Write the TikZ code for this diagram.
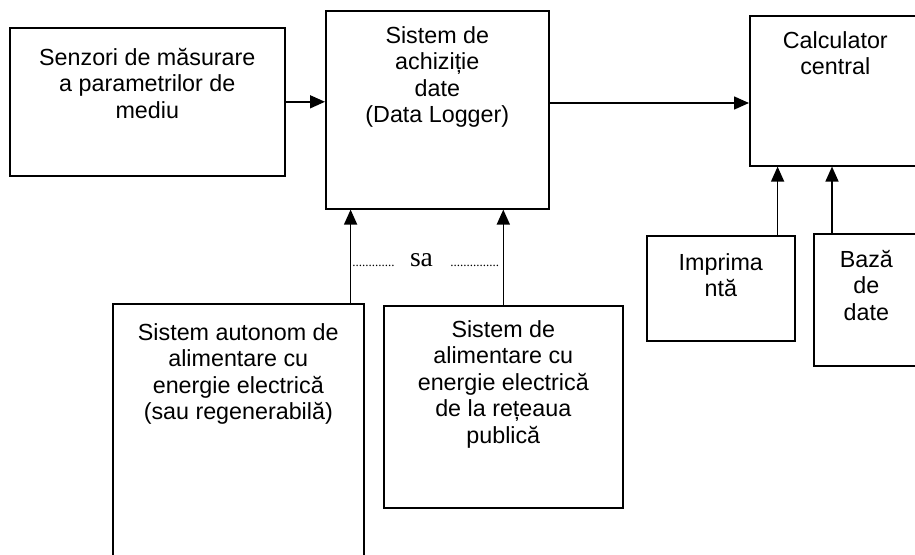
\documentclass[tikz,border=0pt]{standalone}
\usepackage{fontspec}
\setmainfont{Liberation Sans}
\newfontfamily\serifpart{Liberation Serif}
\usetikzlibrary{arrows.meta,positioning,calc}
\tikzset{
  block/.style={
    draw,
    line width=1.6pt,
    inner sep=0pt,
    anchor=north west
  },
  blocktext/.style={
    align=center,
    inner sep=0pt,
    font=\fontsize{23.3}{26.5}\selectfont
  },
  feed/.style={
    line width=1.6pt,
    -{Triangle[length=15pt,width=13pt]}
  },
  orword/.style={
    inner sep=0pt,
    anchor=base,
    font=\serifpart\fontsize{27.6}{30}\selectfont
  },
  dotrow/.style={
    inner sep=0pt,
    font=\serifpart\fontsize{13}{15}\selectfont
  }
}

\begin{document}
\begin{tikzpicture}[x=1pt,y=-1pt]
    \useasboundingbox (0,0) rectangle (915,554);
    \clip (0,0) rectangle (915,554);
    % blocks
    \node[block, minimum width=275pt, minimum height=148pt] (senz) at (9,27) {};
    \node[block, minimum width=223pt, minimum height=198pt] (dl) at (325,10) {};
    \node[block, minimum width=171pt, minimum height=150pt] (calc) at (749,15) {};
    \node[block, minimum width=148pt, minimum height=105pt] (prn) at (646,235) {};
    \node[block, minimum width=105pt, minimum height=132pt] (bd) at (813,233) {};
    \node[block, minimum width=251pt, minimum height=300pt] (auto) at (112,303) {};
    \node[block, minimum width=239pt, minimum height=202pt] (retea) at (383,305) {};
    % texts
    \node[blocktext, below=21pt of senz.north] (senztxt) {Senzori de măsurare\\a parametrilor de\\mediu};
    \node[blocktext, below=16pt of dl.north] (dltxt) {Sistem de\\achiziție\\date\\(Data Logger)};
    \node[blocktext, below=16pt of calc.north] (calctxt) {Calculator\\central};
    \node[blocktext, below=18pt of prn.north] (prntxt) {Imprima\\ntă};
    \node[blocktext, below=17pt of bd.north] (bdtxt) {Bază\\de\\date};
    \node[blocktext, below=20pt of auto.north] (autotxt) {Sistem autonom de\\alimentare cu\\energie electrică\\(sau regenerabilă)};
    \node[blocktext, below=15pt of retea.north] (reteatxt) {Sistem de\\alimentare cu\\energie electrică\\de la rețeaua\\publică};
    % sau
    \node[orword] (sa) at (421.5,266) {sa};
    \node[dotrow, anchor=base east] (dotsl) at ([xshift=-15pt]sa.base west) {.............};
    \node[dotrow, anchor=base west] (dotsr) at ([xshift=17pt]sa.base east) {...............};
    % arrows
    \draw[feed] (senz.east) -- (senz.east -| dl.west);
    \draw[feed] ([yshift=-93pt]dl.north east) -- ([yshift=-93pt]dl.north east -| calc.west);
    \draw[feed] ([xshift=-14pt]auto.north east) -- ([xshift=-14pt]auto.north east |- dl.south);
    \draw[feed] (retea.north) -- (retea.north |- dl.south);
    \draw[feed] ([xshift=-18pt]prn.north east) -- ([xshift=-18pt]prn.north east |- calc.south);
    \draw[feed] ([xshift=19pt]bd.north west) -- ([xshift=19pt]bd.north west |- calc.south);
\end{tikzpicture}
\end{document}
